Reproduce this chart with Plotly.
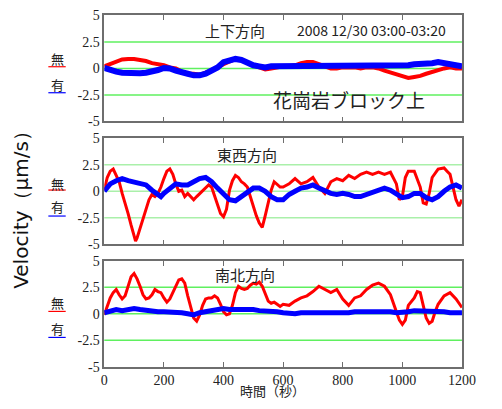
import plotly.graph_objects as go

W, H = 502, 409

# ---------------- data ----------------
# Panel 1: 上下方向 (vertical)
t_ud = [0,20,40,60,80,100,120,140,160,180,200,220,240,260,280,300,320,340,360,380,
        400,420,440,460,480,500,520,540,560,580,600,620,640,660,680,700,720,740,760,780,
        800,820,840,860,880,900,920,940,960,980,1000,1020,1040,1060,1080,1100,1120,1140,1160,1180,1200]
ud_nashi = [0.2,0.4,0.7,0.85,0.9,0.9,0.8,0.7,0.5,0.4,0.3,0.1,0,-0.3,-0.5,-0.5,-0.6,-0.4,-0.2,0.1,
            0.4,0.7,0.9,0.8,0.5,0.3,0.1,-0.1,0,0.1,0.2,0.2,0.3,0.5,0.6,0.6,0.4,0.2,0,0,
            0.1,0.1,0.1,0,0.1,0.1,0,-0.2,-0.4,-0.6,-0.8,-0.9,-0.8,-0.7,-0.5,-0.3,-0.1,0,0.1,0,0]
ud_ari = [0.05,-0.2,-0.3,-0.4,-0.45,-0.45,-0.45,-0.4,-0.3,-0.15,0.05,0,-0.2,-0.3,-0.5,-0.65,-0.65,-0.5,-0.25,0.1,
          0.6,0.8,0.9,0.8,0.5,0.3,0.2,0.1,0.2,0.2,0.2,0.3,0.3,0.3,0.2,0.2,0.3,0.3,0.2,0.2,
          0.2,0.2,0.3,0.3,0.3,0.3,0.3,0.3,0.3,0.3,0.3,0.3,0.4,0.4,0.5,0.5,0.6,0.5,0.4,0.3,0.2]

# Panel 2: 東西方向 (east-west)
t_ew_r = [0,10,20,30,40,50,60,70,80,90,100,105,110,120,130,140,150,160,170,180,190,200,210,220,230,240,
          250,260,270,280,290,300,310,320,330,340,350,360,370,380,390,400,410,420,430,440,450,460,470,480,
          490,500,510,520,530,540,550,560,570,580,590,600,620,640,660,680,700,720,740,760,780,800,820,840,
          860,880,900,920,940,960,980,990,1000,1010,1020,1040,1060,1070,1080,1090,1100,1120,1140,1150,1160,
          1170,1180,1190,1200]
ew_nashi = [0.1,1.3,1.9,2.1,1.5,0.9,-0.2,-1.1,-2.1,-3.2,-4.2,-4.7,-4.4,-3.5,-2.6,-1.7,-0.8,-0.3,-0.5,-0.2,
            0.4,1.2,1.9,2.1,1.6,0.7,0,0.1,-0.5,-0.2,-0.5,-0.8,-0.5,-0.2,0.1,0.4,0.6,0.4,-0.5,-1.4,
            -2.1,-2.4,-1.7,0.1,1.0,1.5,1.3,0.9,0.7,0.4,-0.5,-1.5,-2.3,-3.0,-3.4,-2.3,-1.1,0.1,0.9,0.6,
            0.4,0.4,0.7,1.2,0.7,0.9,1.3,0.4,-0.2,0.9,1.2,1.0,1.5,1.2,1.6,1.8,1.6,1.8,1.6,1.8,
            0.7,-0.8,-0.5,1.3,1.9,1.9,0.4,-1.1,-1.2,-0.2,1.3,2.1,2.2,1.9,1.6,0.4,-0.8,-1.4,-0.8]
t_ew_b = [0,10,20,40,60,80,100,120,140,160,180,190,200,220,240,260,280,300,320,340,360,380,400,420,440,
          460,480,500,520,540,560,580,600,620,640,660,680,700,720,740,760,780,800,820,840,860,880,900,920,
          940,960,980,1000,1020,1040,1060,1080,1100,1120,1140,1160,1180,1200]
ew_ari = [0,0.3,0.7,1.0,1.2,1.0,0.9,0.7,0.6,0.1,-0.3,-0.5,-0.2,0.3,0.7,0.6,0.6,0.9,1.2,1.3,0.9,0.3,-0.3,
          -0.8,-0.9,-0.5,0,0.3,0.3,0,-0.5,-0.8,-0.8,-0.3,0,0.3,0.4,0.6,0.3,0,-0.2,-0.3,-0.2,-0.3,-0.5,
          -0.5,-0.3,-0.2,0,0.3,0.1,-0.3,-0.6,-0.5,-0.2,-0.2,-0.6,-0.8,-0.5,0,0.4,0.6,0.3]

# Panel 3: 南北方向 (north-south)
t_ns_r = [0,10,20,30,40,50,60,70,80,90,100,110,120,130,140,150,160,170,180,190,200,210,220,230,240,250,
          260,270,280,290,300,310,320,330,340,350,360,370,380,390,400,410,420,430,440,450,460,470,480,490,
          500,510,520,530,540,550,560,570,580,590,600,620,640,660,680,700,720,740,760,780,800,820,840,860,
          880,900,920,940,960,980,990,1000,1010,1020,1040,1050,1060,1070,1080,1090,1100,1110,1120,1140,1160,
          1180,1200]
ns_nashi = [-0.1,0.8,1.5,2.0,2.3,1.8,1.4,1.7,2.6,3.5,3.8,3.3,2.6,1.8,1.4,1.5,1.8,2.3,2.1,2.0,1.5,1.1,1.4,
            2.0,2.6,3.2,3.3,2.9,1.7,0.5,-0.4,-0.7,-0.1,0.8,1.4,1.5,1.5,1.7,1.5,0.9,0.2,-0.1,0,0.8,2.0,
            2.6,2.4,2.3,2.4,2.7,2.9,2.8,3.0,2.6,1.8,1.2,1.0,1.1,0.9,0.7,0.9,0.8,1.2,1.5,1.7,2.1,2.6,
            2.3,2.0,2.3,1.4,0.8,1.5,1.7,2.3,2.7,2.9,2.6,1.8,0.2,-0.6,-1.0,-0.6,0.8,1.5,2.1,2.0,0.8,
            -0.4,-0.9,-0.7,0.2,0.9,1.7,2.0,1.4,0.6]
t_ns_b = [0,20,40,60,80,100,120,140,160,180,200,220,240,260,280,300,320,340,360,380,400,420,440,460,480,
          500,520,540,560,580,600,620,640,660,680,700,720,740,760,780,800,820,840,860,880,900,920,940,960,
          980,1000,1020,1040,1060,1080,1100,1120,1140,1160,1180,1200]
ns_ari = [0.1,0.3,0.4,0.3,0.4,0.5,0.4,0.3,0.3,0.2,0.2,0.2,0.1,0.1,0,-0.1,0.1,0.2,0.3,0.4,0.5,0.4,0.4,
          0.5,0.5,0.4,0.3,0.3,0.2,0.2,0.1,0,0,0.1,0.1,0.1,0.1,0,0,0,0.1,0.1,0.2,0.2,0.3,0.3,0.3,0.2,
          0.2,0.1,0.1,0.2,0.3,0.3,0.2,0.2,0.2,0.2,0.1,0.1,0.1]

panel_titles = ["上下方向", "東西方向", "南北方向"]
date_text = "2008 12/30 03:00-03:20"
site_text = "花崗岩ブロック上"
legend_labels = ["無", "有"]
y_tickvals = [5, 2.5, 0, -2.5, -5]
y_ticktext = ["5", "2.5", "0", "-2.5", "-5"]
x_tickvals = [0, 200, 400, 600, 800, 1000, 1200]
grid_levels = [2.5, 0, -2.5]
x_title = "時間（秒）"
y_title = "Velocity（μm/s）"

# ---------------- layout helpers ----------------
def px_x(x):
    return x / W

def px_y(y):
    return 1 - y / H

x_dom = [px_x(104), px_x(475)]
y_doms = [[px_y(118.8), px_y(8.8)], [px_y(246.3), px_y(136.3)], [px_y(373.5), px_y(263.5)]]

RED = "#ff0000"
BLUE = "#0000ff"
greens = ["rgb(95,240,95)", "rgb(170,240,170)", "rgb(95,240,95)"]
frame = "#6e6e6e"

fig = go.Figure()

series = [
    (t_ud, ud_nashi, t_ud, ud_ari, 4, 6),
    (t_ew_r, ew_nashi, t_ew_b, ew_ari, 3, 5),
    (t_ns_r, ns_nashi, t_ns_b, ns_ari, 3, 5),
]
for i, (tr, r, tb, b, wr, wb) in enumerate(series):
    xa = "x" if i == 0 else f"x{i+1}"
    ya = "y" if i == 0 else f"y{i+1}"
    fig.add_trace(go.Scatter(x=tr, y=r, mode="lines", line=dict(color=RED, width=wr),
                             xaxis=xa, yaxis=ya, showlegend=False, hoverinfo="skip"))
    fig.add_trace(go.Scatter(x=tb, y=b, mode="lines", line=dict(color=BLUE, width=wb),
                             xaxis=xa, yaxis=ya, showlegend=False, hoverinfo="skip"))

layout = dict(width=W, height=H, margin=dict(l=0, r=0, t=0, b=0),
              paper_bgcolor="white", plot_bgcolor="white", showlegend=False)
tickfont = dict(family="Liberation Serif", size=14, color="#222")
xtickfont = dict(family="Liberation Serif", size=14, color="#222")
shapes = []
for i in range(3):
    sfx = "" if i == 0 else str(i + 1)
    layout["xaxis" + sfx] = dict(domain=x_dom, range=[0, 1200], anchor="y" + sfx,
                                 tickvals=x_tickvals, showticklabels=(i == 2),
                                 ticks="inside", ticklen=5, tickwidth=1, tickcolor=frame,
                                 showline=True, linecolor=frame, linewidth=1.5, mirror="ticks",
                                 showgrid=False, zeroline=False, tickfont=xtickfont,
                                 ticklabelstandoff=0)
    layout["yaxis" + sfx] = dict(domain=y_doms[i], range=[-5, 5], anchor="x" + sfx,
                                 tickvals=y_tickvals, ticktext=y_ticktext, ticks="",
                                 showline=True, linecolor=frame, linewidth=1.5, mirror=True,
                                 showgrid=False, zeroline=False, tickfont=tickfont)
    for lv in grid_levels:
        shapes.append(dict(type="line", xref=("x" + sfx) + " domain", yref="y" + sfx,
                           x0=0, x1=1, y0=lv, y1=lv, layer="below",
                           line=dict(color=greens[i], width=1.5)))

cjk = "Noto Sans CJK JP"
ann = []
title_pos = [(240, 24), (252, 153), (250, 278)]
for (cx, cy), txt in zip(title_pos, panel_titles):
    ann.append(dict(x=px_x(cx), y=px_y(cy), xref="paper", yref="paper", text=txt, showarrow=False,
                    font=dict(family=cjk, size=15, color="#222"), xanchor="center", yanchor="middle"))
ann.append(dict(x=px_x(381), y=px_y(24), xref="paper", yref="paper", text=date_text, showarrow=False,
                font=dict(family=cjk, size=14, color="#222"), xanchor="center", yanchor="middle"))
ann.append(dict(x=px_x(358), y=px_y(96), xref="paper", yref="paper", text=site_text, showarrow=False,
                font=dict(family=cjk, size=19, color="#222"), xanchor="center", yanchor="middle"))
# legend-like labels
leg_pos = [(53, 62, 80, 89), (183, 190, 207, 217), (307, 316, 334, 343)]
for (y1, u1, y2, u2) in leg_pos:
    for lab, yy, uu, col in ((legend_labels[0], y1, u1, RED), (legend_labels[1], y2, u2, BLUE)):
        ann.append(dict(x=px_x(56), y=px_y(yy), xref="paper", yref="paper", text=lab, showarrow=False,
                        font=dict(family=cjk, size=13, color="#222"), xanchor="center", yanchor="middle"))
        shapes.append(dict(type="line", xref="paper", yref="paper", x0=px_x(46), x1=px_x(64),
                           y0=px_y(uu), y1=px_y(uu), line=dict(color=col, width=1.2)))
ann.append(dict(x=px_x(278), y=px_y(407), xref="paper", yref="paper", text=x_title, showarrow=False,
                borderpad=0, height=15, valign="middle", font=dict(family=cjk, size=13, color="#222"),
                xanchor="center", yanchor="bottom"))
ann.append(dict(x=px_x(18), y=px_y(205), xref="paper", yref="paper", text=y_title, showarrow=False,
                textangle=-90, font=dict(family="DejaVu Sans", size=20, color="#111"),
                xanchor="center", yanchor="middle"))
layout["annotations"] = ann
layout["shapes"] = shapes
fig.update_layout(**layout)
fig.write_html("out.html")
